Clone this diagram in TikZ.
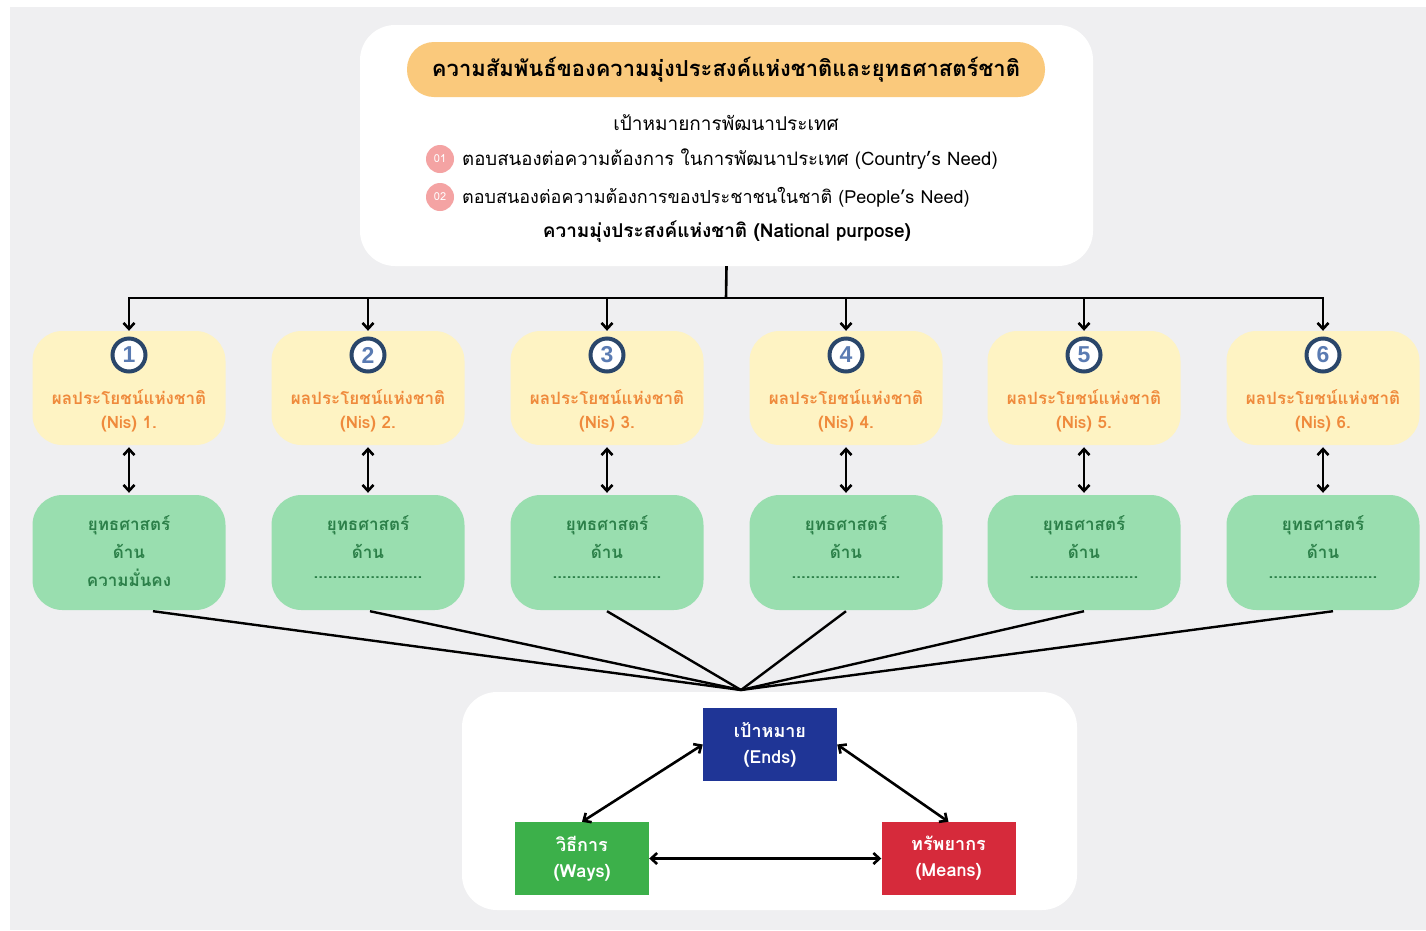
\documentclass[tikz,border=0pt]{standalone}
\usepackage{fontspec}
\setmainfont[Script=Thai]{Loma}
\newfontfamily\numfont{Liberation Sans}
\usetikzlibrary{arrows.meta}
\definecolor{bggray}{HTML}{EFEFF1}
\definecolor{pillcol}{HTML}{FAC97C}
\definecolor{yelbox}{HTML}{FEF3C3}
\definecolor{grnbox}{HTML}{99DEAF}
\definecolor{orgtxt}{HTML}{EF8A3C}
\definecolor{grntxt}{HTML}{2C8049}
\definecolor{navy}{HTML}{2A466A}
\definecolor{numblue}{HTML}{5A7BB2}
\definecolor{pinkdot}{HTML}{F4A3A3}
\definecolor{endsblue}{HTML}{1F3596}
\definecolor{waysgreen}{HTML}{3CB04A}
\definecolor{meansred}{HTML}{D62A3B}
\tikzset{
  panel/.style={fill=white, rounded corners=35pt, inner sep=0pt, draw=none},
  ybox/.style={fill=yelbox, rounded corners=30pt, minimum width=193pt, minimum height=114pt, inner sep=0pt},
  gbox/.style={fill=grnbox, rounded corners=30pt, minimum width=193pt, minimum height=115pt, inner sep=0pt},
  numcirc/.style={circle, fill=white, draw=navy, line width=4pt, minimum size=33pt, inner sep=0pt,
     font=\numfont\bfseries\fontsize{23}{23}\selectfont, text=numblue},
  otext/.style={text=orgtxt, font=\bfseries\fontsize{17}{17}\selectfont, inner sep=0pt},
  gtext/.style={text=grntxt, font=\bfseries\fontsize{17}{17}\selectfont, inner sep=0pt},
  pdot/.style={circle, fill=pinkdot, minimum size=28pt, inner sep=0pt, text=white, font=\fontsize{11}{11}\selectfont},
  itemtext/.style={anchor=west, inner sep=0pt, font=\fontsize{18.6}{19}\selectfont},
  tribox/.style={minimum width=134pt, minimum height=73pt, inner sep=0pt, text=white, align=center,
     font=\bfseries\fontsize{18}{26}\selectfont},
  conn/.style={line width=2.6pt, draw=black},
  arr/.style={conn, -{Straight Barb[length=6pt,width=11pt]}},
  darr/.style={conn, {Straight Barb[length=6pt,width=11pt]}-{Straight Barb[length=6pt,width=11pt]}},
}
\begin{document}
\begin{tikzpicture}[x=1pt,y=-1pt]
\fill[white] (0,0) rectangle (1426,930);
\fill[bggray] (10,7) rectangle (1426,930);
\useasboundingbox (0,0) rectangle (1426,930);

% top panel
\node[panel, minimum width=733pt, minimum height=241pt] (top) at (726.5,145.5) {};
\node[fill=pillcol, rounded corners=27pt, minimum width=638pt, minimum height=55pt, inner sep=0pt,
      font=\bfseries\fontsize{22}{22}\selectfont] (title) at (726,69.5)
      {ความสัมพันธ์ของความมุ่งประสงค์แห่งชาติและยุทธศาสตร์ชาติ};
\node[inner sep=0pt, font=\fontsize{19}{19}\selectfont] (goal) at (726,123) {เป้าหมายการพัฒนาประเทศ};
\node[pdot] (d1) at (440,159) {01};
\node[itemtext] (i1) at (462,159) {ตอบสนองต่อความต้องการ ในการพัฒนาประเทศ (Country’s Need)};
\node[pdot] (d2) at (440,197) {02};
\node[itemtext, font=\fontsize{18}{19}\selectfont] (i2) at (462,197) {ตอบสนองต่อความต้องการของประชาชนในชาติ (People’s Need)};
\node[inner sep=0pt, font=\bfseries\fontsize{19}{19}\selectfont] (np) at (727,232) {ความมุ่งประสงค์แห่งชาติ (National purpose)};

\coordinate (bus) at (726,298);
\draw[conn] (top.south) -- (bus);

\foreach \i/\x/\lab in {1/129/{ความมั่นคง},2/368/{.......................},3/607/{.......................},4/846/{.......................},5/1084/{.......................},6/1323/{.......................}}{
  \node[ybox] (y\i) at (\x,388) {};
  \node[numcirc] (c\i) at (\x,355) {\i};
  \node[otext] (o\i) at (\x,397) {ผลประโยชน์แห่งชาติ};
  \node[otext] (n\i) at (\x,424) {(Nis)\ \i.};
  \node[gbox] (g\i) at (\x,552.5) {};
  \node[gtext] (s\i) at (\x,525) {ยุทธศาสตร์};
  \node[gtext] (a\i) at (\x,551) {ด้าน};
  \node[gtext] (l\i) at (\x,578) {\lab};
  \draw[arr] (bus) -| (y\i.north);
  \draw[darr, shorten <=2pt, shorten >=2pt] (y\i.south) -- (g\i.north);
}

% converging lines
\coordinate (conv) at (741,690);
\draw[conn, line width=2.4pt] ([xshift=24pt,yshift=-1pt]g1.south) -- (conv);
\draw[conn, line width=2.4pt] ([xshift=2pt,yshift=-1pt]g2.south) -- (conv);
\draw[conn, line width=2.4pt] ([yshift=-1pt]g3.south) -- (conv);
\draw[conn, line width=2.4pt] ([yshift=-1pt]g4.south) -- (conv);
\draw[conn, line width=2.4pt] ([yshift=-1pt]g5.south) -- (conv);
\draw[conn, line width=2.4pt] ([xshift=10pt,yshift=-1pt]g6.south) -- (conv);

% bottom panel
\node[panel, minimum width=615pt, minimum height=218pt] (bot) at (769.5,801) {};
\node[tribox, fill=endsblue] (ends) at (770,744.5) {เป้าหมาย\\(Ends)};
\node[tribox, fill=waysgreen] (ways) at (582,858.5) {วิธีการ\\(Ways)};
\node[tribox, fill=meansred] (means) at (948.5,858.5) {ทรัพยากร\\(Means)};
\draw[darr] (ends.west) -- (ways.north);
\draw[darr] (ends.east) -- (means.north);
\draw[darr] (ways.east) -- (means.west);
\end{tikzpicture}
\end{document}
